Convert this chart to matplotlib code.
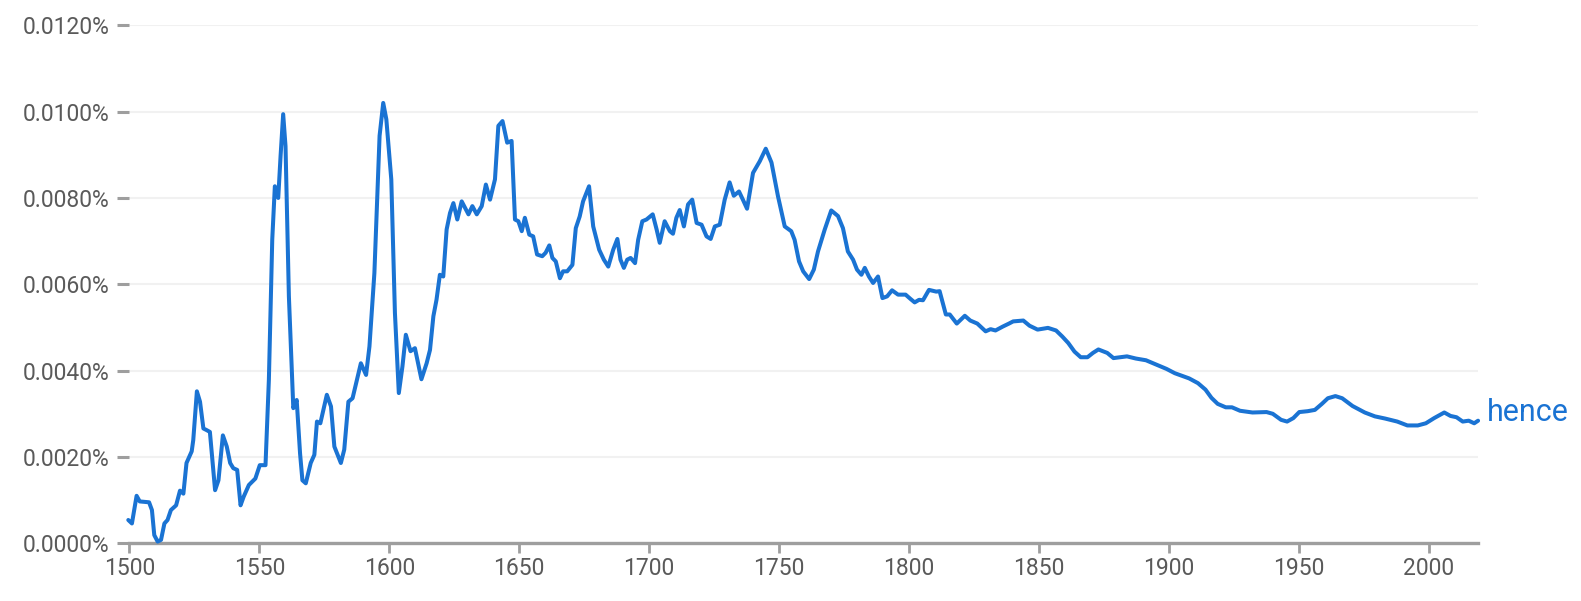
import matplotlib
matplotlib.use("Agg")
import matplotlib.pyplot as plt

# values (year, frequency in thousandths of a percent)
years = [
    1499.6, 1501.0, 1502.8, 1504.0, 1507.6, 1508.7, 1509.6, 1510.9, 1512.2, 1513.5,
    1514.7, 1516.0, 1518.0, 1519.5, 1520.8, 1522.0, 1524.0, 1524.6, 1526.0, 1527.2,
    1528.5, 1529.8, 1531.0, 1533.0, 1534.3, 1536.0, 1537.5, 1538.8, 1540.0, 1541.5,
    1542.8, 1544.0, 1546.0, 1548.5, 1550.2, 1552.4, 1553.7, 1555.0, 1556.0, 1557.3,
    1558.2, 1559.2, 1560.1, 1561.4, 1563.1, 1564.4, 1565.7, 1566.6, 1567.9, 1569.8,
    1571.2, 1572.2, 1573.5, 1576.0, 1577.6, 1578.9, 1581.4, 1582.7, 1584.3, 1585.9,
    1589.1, 1591.1, 1592.4, 1594.3, 1596.3, 1597.7, 1598.9, 1600.8, 1602.2, 1603.7,
    1605.1, 1606.4, 1608.2, 1609.9, 1612.4, 1614.4, 1615.7, 1617.0, 1618.2, 1619.5,
    1620.8, 1622.1, 1623.4, 1624.7, 1626.2, 1627.9, 1630.5, 1632.0, 1633.7, 1635.6,
    1637.2, 1638.8, 1640.7, 1642.0, 1643.6, 1645.4, 1647.1, 1648.4, 1649.7, 1651.0,
    1652.2, 1653.9, 1655.4, 1656.9, 1658.9, 1660.2, 1661.6, 1662.8, 1664.1, 1665.7,
    1666.9, 1668.5, 1670.5, 1671.8, 1673.3, 1674.6, 1676.9, 1678.5, 1680.8, 1682.6,
    1684.3, 1686.2, 1687.8, 1689.0, 1690.3, 1691.6, 1692.9, 1694.6, 1695.8, 1697.4,
    1699.0, 1701.4, 1702.9, 1704.1, 1706.0, 1708.0, 1709.2, 1710.5, 1711.8, 1713.4,
    1715.0, 1716.6, 1718.3, 1720.2, 1722.1, 1723.7, 1725.3, 1727.2, 1729.1, 1731.0,
    1732.6, 1734.6, 1736.1, 1737.7, 1740.0, 1742.6, 1744.9, 1747.1, 1749.6, 1752.2,
    1754.7, 1756.0, 1757.7, 1759.3, 1761.6, 1763.4, 1765.0, 1767.6, 1770.1, 1772.7,
    1774.6, 1776.5, 1778.5, 1780.0, 1781.7, 1783.0, 1784.6, 1786.2, 1788.1, 1789.8,
    1791.6, 1793.5, 1795.8, 1798.7, 1800.6, 1802.2, 1803.9, 1805.4, 1807.7, 1810.5,
    1811.8, 1814.2, 1815.7, 1818.4, 1821.5, 1823.6, 1826.3, 1829.5, 1831.4, 1833.3,
    1836.1, 1838.5, 1840.1, 1844.0, 1846.4, 1849.5, 1853.5, 1856.6, 1859.0, 1861.3,
    1863.7, 1866.1, 1868.7, 1870.8, 1872.9, 1876.3, 1878.7, 1883.9, 1887.3, 1891.2,
    1894.4, 1899.1, 1902.3, 1907.8, 1911.2, 1914.1, 1916.4, 1918.8, 1921.9, 1924.3,
    1927.4, 1932.2, 1937.6, 1940.0, 1943.2, 1945.5, 1947.9, 1950.2, 1953.4, 1956.2,
    1958.9, 1961.2, 1964.1, 1966.7, 1970.7, 1975.4, 1979.3, 1983.2, 1987.9, 1991.8,
    1995.8, 1998.9, 2002.1, 2006.0, 2008.4, 2010.7, 2013.1, 2015.4, 2017.5, 2019.0,
]
freq_milli = [
    0.54, 0.46, 1.10, 0.97, 0.95, 0.77, 0.19, 0.04, 0.08, 0.46,
    0.54, 0.77, 0.88, 1.22, 1.15, 1.86, 2.13, 2.39, 3.52, 3.28,
    2.66, 2.62, 2.58, 1.23, 1.46, 2.50, 2.24, 1.86, 1.74, 1.70,
    0.88, 1.08, 1.35, 1.50, 1.81, 1.81, 3.79, 7.04, 8.27, 8.00,
    8.97, 9.94, 9.20, 5.72, 3.13, 3.32, 2.08, 1.46, 1.39, 1.86,
    2.05, 2.82, 2.78, 3.44, 3.17, 2.24, 1.86, 2.17, 3.28, 3.36,
    4.17, 3.90, 4.56, 6.26, 9.44, 10.20, 9.82, 8.43, 5.34, 3.48,
    4.10, 4.83, 4.45, 4.52, 3.80, 4.17, 4.48, 5.26, 5.64, 6.22,
    6.18, 7.27, 7.65, 7.88, 7.50, 7.92, 7.62, 7.81, 7.62, 7.81,
    8.31, 7.96, 8.43, 9.67, 9.78, 9.28, 9.32, 7.50, 7.46, 7.23,
    7.54, 7.15, 7.11, 6.69, 6.65, 6.73, 6.90, 6.61, 6.53, 6.14,
    6.30, 6.30, 6.45, 7.30, 7.57, 7.92, 8.27, 7.34, 6.80, 6.57,
    6.41, 6.80, 7.05, 6.57, 6.38, 6.57, 6.61, 6.49, 7.03, 7.46,
    7.50, 7.62, 7.27, 6.96, 7.46, 7.23, 7.17, 7.54, 7.72, 7.34,
    7.85, 7.96, 7.42, 7.38, 7.11, 7.05, 7.34, 7.38, 7.96, 8.36,
    8.05, 8.15, 7.96, 7.75, 8.58, 8.85, 9.14, 8.82, 8.04, 7.34,
    7.23, 7.03, 6.53, 6.30, 6.12, 6.34, 6.76, 7.27, 7.71, 7.58,
    7.30, 6.76, 6.57, 6.34, 6.22, 6.38, 6.18, 6.03, 6.18, 5.68,
    5.72, 5.86, 5.76, 5.76, 5.66, 5.58, 5.64, 5.63, 5.87, 5.83,
    5.84, 5.30, 5.30, 5.09, 5.27, 5.16, 5.09, 4.91, 4.96, 4.93,
    5.02, 5.09, 5.14, 5.16, 5.04, 4.95, 4.99, 4.93, 4.79, 4.64,
    4.44, 4.31, 4.31, 4.41, 4.49, 4.41, 4.29, 4.33, 4.28, 4.24,
    4.16, 4.04, 3.94, 3.82, 3.71, 3.56, 3.37, 3.23, 3.15, 3.15,
    3.07, 3.03, 3.04, 3.00, 2.86, 2.82, 2.90, 3.04, 3.06, 3.09,
    3.23, 3.36, 3.41, 3.36, 3.18, 3.03, 2.94, 2.89, 2.82, 2.73,
    2.73, 2.78, 2.90, 3.03, 2.95, 2.92, 2.82, 2.84, 2.78, 2.84,
]
series_label = "hence"

y_ticks = [0.0, 0.002, 0.004, 0.006, 0.008, 0.010, 0.012]
x_ticks = list(range(1500, 2001, 50))

LINE = "#1a73d3"
AXIS = "#9e9e9e"
TEXT = "#5a5a5a"

plt.rcParams["font.family"] = ["Roboto", "DejaVu Sans"]

fig = plt.figure(figsize=(15.81, 6.01), dpi=100)
ax = fig.add_axes([0.0818, 0.096, 0.8531, 0.862])

freq = [v / 1000 for v in freq_milli]
ax.plot(years, freq, color=LINE, lw=2.9, solid_joinstyle="round",
        solid_capstyle="round", clip_on=False, zorder=3)
ax.annotate(series_label, (years[-1], freq[-1]), xytext=(6.5, 6),
            textcoords="offset points", color=LINE, fontsize=22,
            ha="left", va="center")

ax.set_xlim(1500, 2019)
ax.set_ylim(0, 0.012)
ax.set_yticks(y_ticks)
ax.set_yticklabels([f"{v:.4f}%" for v in y_ticks])
ax.set_xticks(x_ticks)
ax.set_xticklabels([str(x) for x in x_ticks])

ax.grid(axis="y", color="#f1f1f1", lw=1.5, zorder=0)
for side in ("left", "right", "top"):
    ax.spines[side].set_visible(False)
ax.spines["bottom"].set_color(AXIS)
ax.spines["bottom"].set_linewidth(2.4)

ax.tick_params(axis="y", length=8.5, width=2.2, color=AXIS, pad=6,
               labelsize=16.5, labelcolor=TEXT)
ax.tick_params(axis="x", length=7, width=2.0, color=AXIS, pad=3,
               labelsize=16.5, labelcolor=TEXT)

fig.savefig("out.png", dpi=100)
